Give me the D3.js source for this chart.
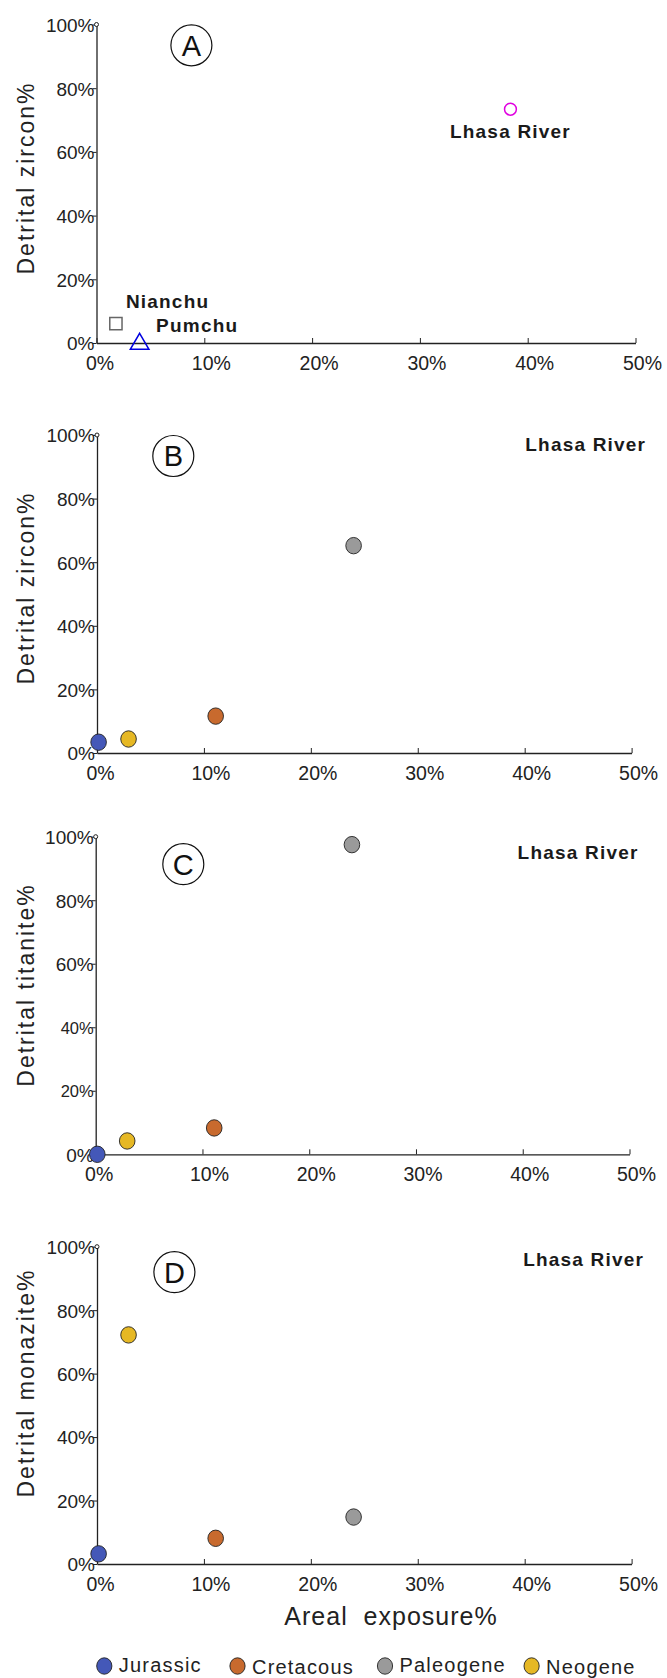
<!DOCTYPE html>
<html>
<head>
<meta charset="utf-8">
<script src="https://cdn.jsdelivr.net/npm/d3@7"></script>
<style>
  body { margin: 0; background: #fff; }
  svg { display: block; font-family: "Liberation Sans", Arial, sans-serif; }
</style>
</head>
<body>
<div id="chart"></div>
<script>
// data (percent)
const xTickValues = [0, 10, 20, 30, 40, 50];
const yTickValues = [0, 20, 40, 60, 80, 100];

const rivers = ['Lhasa River', 'Nianchu', 'Pumchu'];
const riverExposure = [38.4, 1.8, 4.0];
const riverZircon = [73.4, 6.1, 0];

const units = ['Jurassic', 'Cretacous', 'Paleogene', 'Neogene'];
const unitColors = ['#4458b8', '#c86a2e', '#9a9a9a', '#e6b824'];
const unitExposure = [0.15, 11.1, 24.0, 2.95];
const zirconShare = [3.4, 11.6, 65.2, 4.4];
const titaniteShare = [0, 8.3, 97.5, 4.2];
const monaziteShare = [3.2, 8.1, 14.8, 72.2];

const width = 667, height = 1678;

const svg = d3.select('#chart').append('svg')
  .attr('width', width)
  .attr('height', height);

// panel frames
const panels = [
  { id: 'A', title: 'Detrital zircon%', left: 96.5, right: 635.5, top: 24.5, bottom: 343, letter: [191.4, 45.3], titleY: 178 },
  { id: 'B', title: 'Detrital zircon%', left: 97, right: 631.6, top: 435, bottom: 753, letter: [173.3, 456], titleY: 588, values: zirconShare, lhasa: [525.3, 450.7] },
  { id: 'C', title: 'Detrital titanite%', left: 95.7, right: 629.5, top: 836.7, bottom: 1154.3, letter: [183.3, 864.2], titleY: 985, values: titaniteShare, lhasa: [517.6, 859], smallTicks: [20, 40] },
  { id: 'D', title: 'Detrital monazite%', left: 97, right: 631.6, top: 1246.7, bottom: 1564, letter: [174.4, 1272.2], titleY: 1383, values: monaziteShare, lhasa: [523.2, 1266] }
];

panels.forEach(p => {
  const x = d3.scaleLinear().domain([0, 50]).range([p.left, p.right]);
  const y = d3.scaleLinear().domain([0, 100]).range([p.bottom, p.top]);
  const g = svg.append('g');

  // x axis, ticks pointing inward
  const gx = g.append('g')
    .attr('transform', `translate(0,${p.bottom})`)
    .call(d3.axisBottom(x).tickValues(xTickValues).tickSize(-5).tickSizeOuter(0).tickFormat(d => d + '%'));
  gx.select('.domain').attr('stroke', '#222').attr('stroke-width', 1.3);
  gx.selectAll('.tick line').attr('stroke', '#222').attr('stroke-width', 1);
  gx.selectAll('.tick text')
    .attr('y', 27).attr('dy', 0).attr('x', d => d === 0 ? 3 : 6.5)
    .attr('fill', '#222')
    .style('font-size', '19.5px');

  // y axis
  const gy = g.append('g')
    .attr('transform', `translate(${p.left},0)`)
    .call(d3.axisLeft(y).tickValues(yTickValues).tickSize(4).tickSizeOuter(0).tickFormat(d => d + '%'));
  gy.select('.domain').attr('stroke', '#222').attr('stroke-width', 1.3);
  gy.selectAll('.tick line').attr('stroke', '#222').attr('stroke-width', 1);
  gy.selectAll('.tick text')
    .attr('x', -2).attr('dy', '0.36em')
    .attr('fill', '#222')
    .style('font-size', d => (p.smallTicks && p.smallTicks.includes(d)) ? '16.5px' : '19px');
  g.append('circle')
    .attr('cx', p.left).attr('cy', y(100)).attr('r', 2)
    .attr('fill', '#fff').attr('stroke', '#222').attr('stroke-width', 1);

  // y title
  g.append('text')
    .attr('transform', `translate(26,${p.titleY}) rotate(-90)`)
    .attr('text-anchor', 'middle')
    .attr('dy', '0.36em')
    .attr('fill', '#222')
    .style('font-size', '23px')
    .style('letter-spacing', '2px')
    .text(p.title);

  // circled panel letter
  g.append('circle')
    .attr('cx', p.letter[0]).attr('cy', p.letter[1]).attr('r', 20.5)
    .attr('fill', 'none').attr('stroke', '#111').attr('stroke-width', 1.2);
  g.append('text')
    .attr('x', p.letter[0]).attr('y', p.letter[1])
    .attr('text-anchor', 'middle').attr('dy', '0.36em')
    .attr('fill', '#111')
    .style('font-size', '29px')
    .text(p.id);

  if (p.id === 'A') {
    // river samples
    const shapes = [d3.symbolCircle, d3.symbolSquare, d3.symbolTriangle];
    const sizes = [110, 150, 150];
    const strokes = ['#e000e0', '#666', '#0000e0'];
    rivers.forEach((r, i) => {
      g.append('path')
        .attr('d', d3.symbol().type(shapes[i]).size(sizes[i]))
        .attr('transform', `translate(${x(riverExposure[i])},${y(riverZircon[i]) + (i === 2 ? 1 : 0)})`)
        .attr('fill', 'none')
        .attr('stroke', strokes[i])
        .attr('stroke-width', 1.5);
    });
    const lab = [
      { dx: 0, dy: 29, anchor: 'middle' },
      { dx: 10, dy: -15.5, anchor: 'start' },
      { dx: 16.5, dy: -11, anchor: 'start' }
    ];
    rivers.forEach((r, i) => {
      g.append('text')
        .attr('x', x(riverExposure[i]) + lab[i].dx)
        .attr('y', y(riverZircon[i]) + lab[i].dy)
        .attr('text-anchor', lab[i].anchor)
        .attr('fill', '#1a1a1a')
        .style('font-size', '19px')
        .style('font-weight', 'bold')
        .style('letter-spacing', '1.2px')
        .text(r);
    });
  } else {
    g.append('text')
      .attr('x', p.lhasa[0]).attr('y', p.lhasa[1])
      .attr('fill', '#1a1a1a')
      .style('font-size', '19px')
      .style('font-weight', 'bold')
      .style('letter-spacing', '1.2px')
      .text('Lhasa River');

    g.selectAll('ellipse.pt')
      .data(units.map((u, i) => ({ u, ex: unitExposure[i], v: p.values[i], c: unitColors[i] })))
      .enter().append('ellipse')
      .attr('class', 'pt')
      .attr('cx', d => x(d.ex))
      .attr('cy', d => y(d.v))
      .attr('rx', 7.8).attr('ry', 8.2)
      .attr('fill', d => d.c)
      .attr('stroke', '#222')
      .attr('stroke-width', 0.9);
  }
});

// x title
svg.append('text')
  .attr('x', 391).attr('y', 1625)
  .attr('text-anchor', 'middle')
  .attr('fill', '#222')
  .style('font-size', '25px')
  .style('letter-spacing', '1px')
  .style('white-space', 'pre')
  .text('Areal  exposure%');

// legend
const legendX = [104.3, 237.5, 385, 531.6];
const legend = svg.append('g');
units.forEach((u, i) => {
  legend.append('ellipse')
    .attr('cx', legendX[i]).attr('cy', 1666)
    .attr('rx', 7.6).attr('ry', 8.2)
    .attr('fill', unitColors[i])
    .attr('stroke', '#222').attr('stroke-width', 0.9);
  legend.append('text')
    .attr('x', legendX[i] + 14.5).attr('y', 1672 + (i % 2) * 1.5)
    .attr('fill', '#222')
    .style('font-size', '20px')
    .style('letter-spacing', '1.2px')
    .text(u);
});
</script>
</body>
</html>
